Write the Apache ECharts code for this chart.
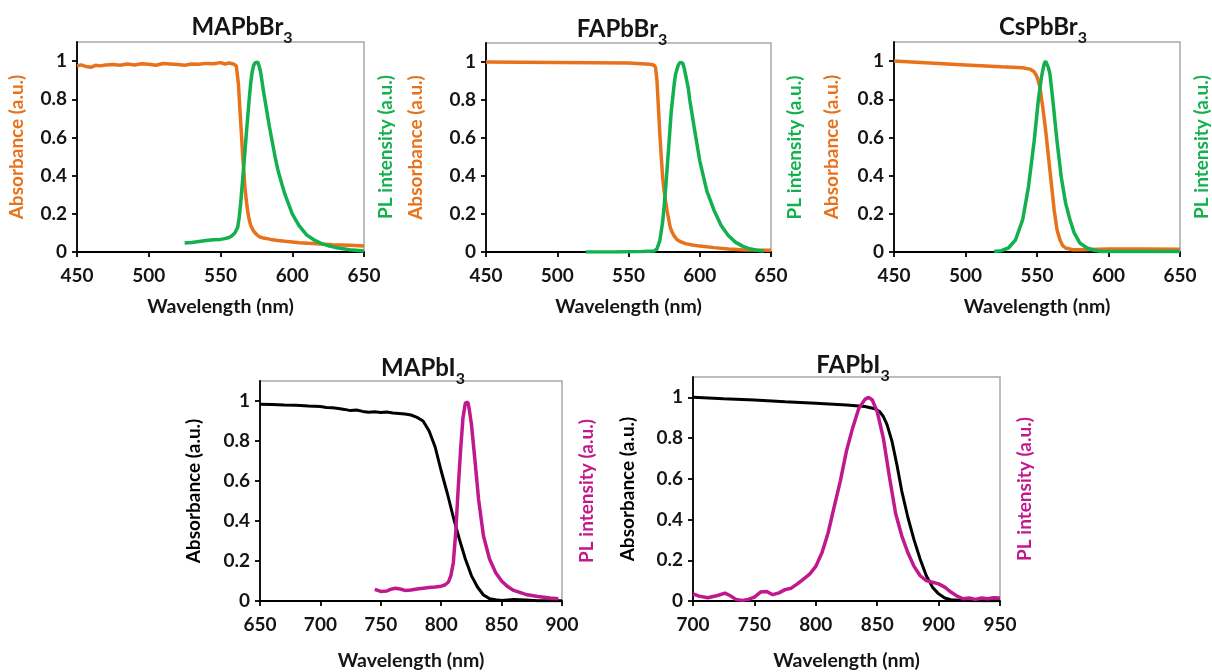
<!DOCTYPE html>
<html>
<head>
<meta charset="utf-8">
<script src="https://cdn.jsdelivr.net/npm/echarts@6/dist/echarts.min.js"></script>
<style>html,body{margin:0;padding:0;background:#fff}#c{width:1212px;height:672px}</style>
</head>
<body>
<div id="c"></div>
<script>
// ---- data ----
const titles = ['MAPbBr', 'FAPbBr', 'CsPbBr', 'MAPbI', 'FAPbI'];
const yTicks = [0, 0.2, 0.4, 0.6, 0.8, 1];

const mapbbr3AbsX = [450,453,456,460,463,466,470,475,480,485,490,495,500,505,510,515,520,525,530,535,540,545,550,553,556,559,561,562,562.5,563.5,564.5,565.5,566.5,567,568,569,570,571,573,575,577,580,585,590,595,605,617,628,640,650];
const mapbbr3AbsY = [0.975,0.98,0.972,0.968,0.978,0.975,0.98,0.982,0.978,0.985,0.98,0.986,0.983,0.978,0.987,0.985,0.982,0.978,0.985,0.984,0.988,0.986,0.992,0.985,0.99,0.985,0.975,0.965,0.88,0.75,0.63,0.5,0.4,0.34,0.27,0.21,0.17,0.14,0.11,0.093,0.08,0.073,0.066,0.06,0.056,0.049,0.043,0.038,0.035,0.031];
const mapbbr3PlX = [525,530,535,540,545,550,553,556,558,560,562,563,564,565,566,567,568,569,570,571,572,573,574,575,576,577,578,579,580,582,584,586,588,590,593,595,598,600,603,605,610,615,620,625,630,640,650];
const mapbbr3PlY = [0.047,0.05,0.055,0.06,0.064,0.066,0.07,0.076,0.085,0.1,0.13,0.18,0.25,0.34,0.43,0.52,0.62,0.71,0.8,0.88,0.94,0.975,0.99,1.0,0.995,0.972,0.94,0.89,0.84,0.75,0.66,0.58,0.5,0.43,0.35,0.3,0.24,0.2,0.16,0.135,0.09,0.064,0.045,0.033,0.024,0.012,0.005];

const fapbbr3AbsX = [450,500,550,565,568,569,570,571,572,573,574,575,576,577,578,579,580,582,584,586,590,595,600,610,620,630,640,650];
const fapbbr3AbsY = [1.0,0.998,0.995,0.988,0.983,0.97,0.9,0.76,0.62,0.5,0.39,0.32,0.27,0.22,0.18,0.14,0.114,0.085,0.066,0.056,0.044,0.037,0.031,0.023,0.016,0.012,0.01,0.009];
const fapbbr3PlX = [520,540,560,568,570,572,574,575,576,578,580,582,583,585,586,587,588,589,590,592,593,596,600,605,610,615,620,625,630,635,640,645];
const fapbbr3PlY = [0,0,0.002,0.005,0.017,0.06,0.16,0.24,0.33,0.53,0.74,0.88,0.935,0.985,0.997,1.0,0.995,0.97,0.935,0.86,0.8,0.66,0.48,0.32,0.22,0.14,0.087,0.052,0.031,0.017,0.009,0.005];

const cspbbr3AbsX = [450,475,500,525,540,545,548,550,552,554,556,558,560,562,564,566,568,570,575,580,600,625,650];
const cspbbr3AbsY = [1.0,0.99,0.98,0.97,0.965,0.958,0.944,0.918,0.866,0.76,0.64,0.5,0.36,0.22,0.117,0.064,0.033,0.021,0.012,0.012,0.016,0.016,0.014];
const cspbbr3PlX = [520,525,530,535,540,544,548,551,553,554,555,556,557,558,559,561,564,567,570,573,576,580,585,590,595,600,625,650];
const cspbbr3PlY = [0.003,0.007,0.021,0.064,0.17,0.34,0.58,0.8,0.91,0.95,0.985,1.0,0.99,0.965,0.935,0.8,0.58,0.39,0.256,0.17,0.1,0.047,0.021,0.009,0.003,0.002,0.002,0.002];

const mapbi3AbsX = [650,660,670,680,690,700,705,710,715,720,725,730,735,740,745,750,755,760,765,770,775,780,785,790,795,800,805,810,815,820,825,830,835,840,845,850,860,870,880,890,900];
const mapbi3AbsY = [0.984,0.982,0.98,0.979,0.975,0.972,0.968,0.966,0.962,0.958,0.952,0.955,0.948,0.944,0.946,0.942,0.945,0.94,0.938,0.935,0.93,0.918,0.9,0.85,0.77,0.65,0.54,0.42,0.31,0.21,0.127,0.07,0.03,0.012,0.006,0.003,0.007,0.005,0.001,0.001,0.001];
const mapbi3PlX = [745,750,755,758,762,766,770,775,780,785,790,795,800,803,806,808,810,812,814,816,818,820,821,822,823,825,828,831,835,840,845,850,855,860,870,880,890,897];
const mapbi3PlY = [0.058,0.048,0.05,0.058,0.064,0.06,0.053,0.055,0.06,0.064,0.068,0.07,0.074,0.08,0.095,0.127,0.19,0.34,0.555,0.75,0.915,0.99,1.0,0.995,0.967,0.885,0.7,0.505,0.325,0.21,0.143,0.1,0.072,0.053,0.033,0.023,0.015,0.011];

const fapbi3AbsX = [700,725,750,775,800,825,840,848,852,855,858,862,866,870,875,880,885,890,895,900,905,910,920,935,950];
const fapbi3AbsY = [1.0,0.993,0.987,0.978,0.971,0.963,0.955,0.944,0.93,0.906,0.866,0.785,0.67,0.54,0.41,0.3,0.205,0.124,0.068,0.035,0.015,0.006,0.002,0.001,0.001];
const fapbi3PlX = [700,705,712,720,726,730,735,740,745,750,755,760,765,770,775,780,785,790,795,800,805,810,815,820,825,830,835,840,843,846,850,855,860,865,870,875,880,885,890,895,900,905,910,915,920,925,930,935,940,945,950];
const fapbi3PlY = [0.035,0.024,0.016,0.027,0.039,0.027,0.008,0.003,0.008,0.019,0.044,0.047,0.031,0.04,0.056,0.063,0.084,0.108,0.132,0.17,0.237,0.334,0.463,0.59,0.737,0.85,0.945,0.99,1.0,0.987,0.93,0.8,0.608,0.43,0.32,0.237,0.17,0.124,0.1,0.092,0.084,0.068,0.044,0.024,0.011,0.015,0.008,0.015,0.011,0.016,0.015];

const xRanges = [[450,650],[450,650],[450,650],[650,900],[700,950]];

// ---- layout / style ----
const FONT = 'Lato';
const ORANGE = '#E8721C', GREEN = '#12B04E', MAGENTA = '#C0198E', BLACK = '#000';
const panels = [
  {grid:{left:77,top:42,width:287,height:210}, abs:[mapbbr3AbsX,mapbbr3AbsY], pl:[mapbbr3PlX,mapbbr3PlY], absC:ORANGE, plC:GREEN, lgap:51, rgap:12, xgap:45, tx:237, ty:6},
  {grid:{left:486,top:43,width:285,height:209}, abs:[fapbbr3AbsX,fapbbr3AbsY], pl:[fapbbr3PlX,fapbbr3PlY], absC:ORANGE, plC:GREEN, lgap:61, rgap:14, xgap:45, tx:617, ty:8},
  {grid:{left:894,top:42,width:287,height:210}, abs:[cspbbr3AbsX,cspbbr3AbsY], pl:[cspbbr3PlX,cspbbr3PlY], absC:ORANGE, plC:GREEN, lgap:53, rgap:12, xgap:45, tx:1038, ty:6},
  {grid:{left:260,top:381,width:302,height:221}, abs:[mapbi3AbsX,mapbi3AbsY], pl:[mapbi3PlX,mapbi3PlY], absC:BLACK, plC:MAGENTA, lgap:57, rgap:15, xgap:50, tx:418, ty:347},
  {grid:{left:693,top:377,width:307,height:225}, abs:[fapbi3AbsX,fapbi3AbsY], pl:[fapbi3PlX,fapbi3PlY], absC:BLACK, plC:MAGENTA, lgap:56, rgap:15, xgap:50, tx:848, ty:344}
];

const zip = (xs, ys) => xs.map((x, i) => [x, ys[i]]);
const option = {animation:false, backgroundColor:'#fff', title:[], grid:[], xAxis:[], yAxis:[], series:[]};
const TXT = '#151515';

panels.forEach((p, i) => {
  option.title.push({
    text: '{a|' + titles[i] + '}{b|3}', left: p.tx, top: p.ty, textAlign: 'center',
    textStyle: {rich: {
      a: {fontFamily: FONT, fontWeight: 'bold', fontSize: 24, color: TXT, lineHeight: 28, verticalAlign: 'bottom'},
      b: {fontFamily: FONT, fontWeight: 'bold', fontSize: 16, color: TXT, lineHeight: 28, verticalAlign: 'bottom', padding: [0,0,-7,0]}
    }}
  });
  option.grid.push(Object.assign({show: true, borderColor: '#a8a8a8', borderWidth: 1.5, backgroundColor: 'transparent', containLabel: false}, p.grid));
  option.xAxis.push({
    type: 'value', gridIndex: i, min: xRanges[i][0], max: xRanges[i][1], interval: 50,
    name: 'Wavelength (nm)', nameLocation: 'middle', nameGap: p.xgap,
    nameTextStyle: {fontFamily: FONT, fontWeight: 'bold', fontSize: 19.5, color: TXT},
    axisLine: {show: true, onZero: false, lineStyle: {color: '#000', width: 1.8}},
    axisTick: {show: true, inside: false, length: 5, lineStyle: {color: '#000', width: 1.8}},
    axisLabel: {fontFamily: FONT, fontWeight: 'bold', fontSize: 19, color: TXT, margin: 14},
    splitLine: {show: false}
  });
  option.yAxis.push({
    type: 'value', gridIndex: i, min: 0, max: 1.1, position: 'left',
    name: 'Absorbance (a.u.)', nameLocation: 'middle', nameGap: p.lgap, nameRotate: 90,
    nameTextStyle: {fontFamily: FONT, fontWeight: 'bold', fontSize: 19, color: p.absC},
    axisLine: {show: true, onZero: false, lineStyle: {color: '#000', width: 1.8}},
    axisTick: {show: true, inside: false, length: 5, customValues: yTicks, lineStyle: {color: '#000', width: 1.8}},
    axisLabel: {fontFamily: FONT, fontWeight: 'bold', fontSize: 19, color: TXT, margin: 10, customValues: yTicks},
    splitLine: {show: false}
  });
  option.yAxis.push({
    type: 'value', gridIndex: i, min: 0, max: 1.1, position: 'right',
    name: 'PL intensity (a.u.)', nameLocation: 'middle', nameGap: p.rgap, nameRotate: 90,
    nameTextStyle: {fontFamily: FONT, fontWeight: 'bold', fontSize: 19, color: p.plC},
    axisLine: {show: false}, axisTick: {show: false}, axisLabel: {show: false}, splitLine: {show: false}
  });
  option.series.push({
    type: 'line', xAxisIndex: i, yAxisIndex: 2 * i, data: zip(p.abs[0], p.abs[1]),
    showSymbol: false, symbol: 'none', lineStyle: {color: p.absC, width: p.absC === BLACK ? 3 : 3.5}, z: 3
  });
  option.series.push({
    type: 'line', xAxisIndex: i, yAxisIndex: 2 * i + 1, data: zip(p.pl[0], p.pl[1]),
    showSymbol: false, symbol: 'none', lineStyle: {color: p.plC, width: 3.5}, z: 4
  });
});

const chart = echarts.init(document.getElementById('c'), null, {renderer: 'canvas'});
chart.setOption(option);
</script>
</body>
</html>
